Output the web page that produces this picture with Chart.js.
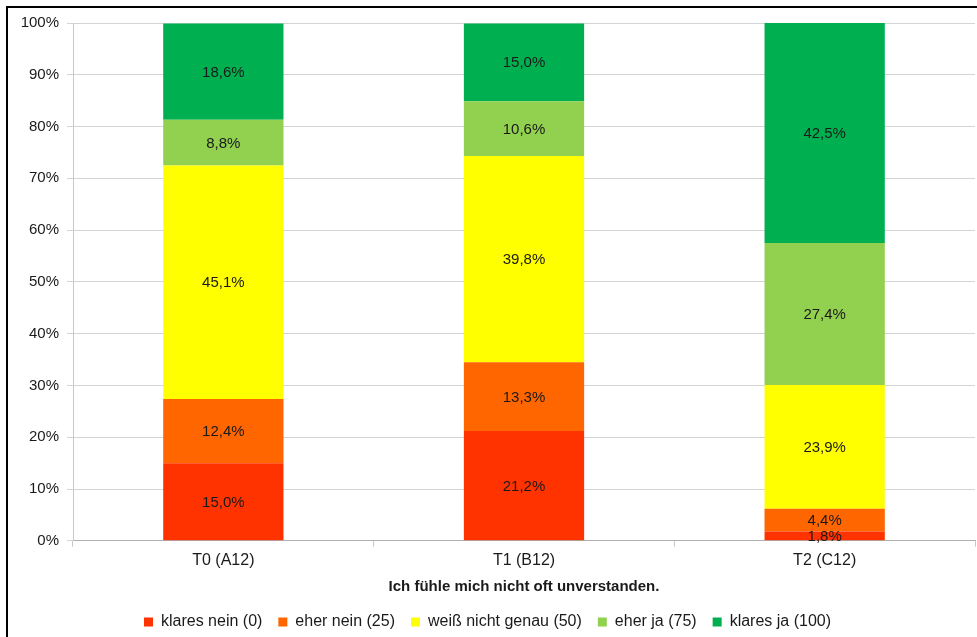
<!DOCTYPE html>
<html>
<head>
<meta charset="utf-8">
<script src="https://cdn.jsdelivr.net/npm/chart.js@4/dist/chart.umd.min.js"></script>
<style>
  html, body { margin: 0; padding: 0; background: #fff; overflow: hidden; }
  #frame { position: absolute; left: 6px; top: 6px; width: 1100px; height: 800px; border: 2px solid #000; }
  #wrap { position: absolute; left: 0; top: 0; width: 977px; height: 642px; }
</style>
</head>
<body>
<div id="frame"></div>
<div id="wrap"><canvas id="chart" width="977" height="642"></canvas></div>
<script>
// Kategorien und Werte (Anteile in %)
const categories = ['T0 (A12)', 'T1 (B12)', 'T2 (C12)'];
const seriesNames = ['klares nein (0)', 'eher nein (25)', 'weiß nicht genau (50)', 'eher ja (75)', 'klares ja (100)'];
const klaresNein = [15.0, 21.2, 1.8];
const eherNein = [12.4, 13.3, 4.4];
const weissNicht = [45.1, 39.8, 23.9];
const eherJa = [8.8, 10.6, 27.4];
const klaresJa = [18.6, 15.0, 42.5];
const seriesColors = ['#FF3300', '#FF6600', '#FFFF00', '#92D050', '#00B050'];
const xTitle = 'Ich fühle mich nicht oft unverstanden.';

const FONT = '"Liberation Sans", Arial, sans-serif';

// Beschriftungen mittig in den Segmenten
const segmentLabels = {
    id: 'segmentLabels',
    afterDatasetsDraw(chart) {
        const ctx = chart.ctx;
        ctx.save();
        ctx.font = '15px ' + FONT;
        ctx.fillStyle = '#1a1a1a';
        ctx.textAlign = 'center';
        ctx.textBaseline = 'middle';
        chart.data.datasets.forEach((ds, i) => {
            const meta = chart.getDatasetMeta(i);
            meta.data.forEach((bar, j) => {
                const v = ds.data[j];
                const y = (bar.y + bar.base) / 2;
                ctx.fillText(v.toFixed(1).replace('.', ',') + '%', bar.x, y + 1);
            });
        });
        ctx.restore();
    }
};

const dataSets = [klaresNein, eherNein, weissNicht, eherJa, klaresJa].map((d, i) => ({
    label: seriesNames[i],
    data: d,
    backgroundColor: seriesColors[i],
    borderWidth: 0,
    categoryPercentage: 1,
    barPercentage: 0.4
}));

new Chart(document.getElementById('chart'), {
    type: 'bar',
    data: { labels: categories, datasets: dataSets },
    plugins: [segmentLabels],
    options: {
        responsive: false,
        animation: false,
        layout: { padding: { left: 0, right: 2, top: 23, bottom: 2 } },
        plugins: {
            tooltip: { enabled: false },
            legend: {
                position: 'bottom',
                labels: {
                    boxWidth: 9,
                    boxHeight: 9,
                    padding: 16,
                    color: '#1a1a1a',
                    font: { size: 16, family: FONT }
                }
            }
        },
        scales: {
            x: {
                stacked: true,
                grid: { display: true, drawOnChartArea: false, drawTicks: true, tickLength: 6, color: '#c8c8c8', offset: true },
                border: { color: '#b0b0b0' },
                ticks: { color: '#1a1a1a', font: { size: 16, family: FONT }, padding: 4 },
                title: { display: true, text: xTitle, color: '#1a1a1a', font: { size: 15, weight: 'bold', family: FONT }, padding: { top: 4, bottom: 2 } }
            },
            y: {
                stacked: true,
                min: 0,
                max: 100,
                afterFit(scale) { scale.width = 73; },
                grid: { color: '#d4d4d4', tickLength: 6 },
                border: { color: '#c8c8c8' },
                ticks: {
                    stepSize: 10,
                    color: '#1a1a1a',
                    font: { size: 15, family: FONT },
                    padding: 8,
                    callback: v => v + '%'
                }
            }
        }
    }
});
</script>
</body>
</html>
